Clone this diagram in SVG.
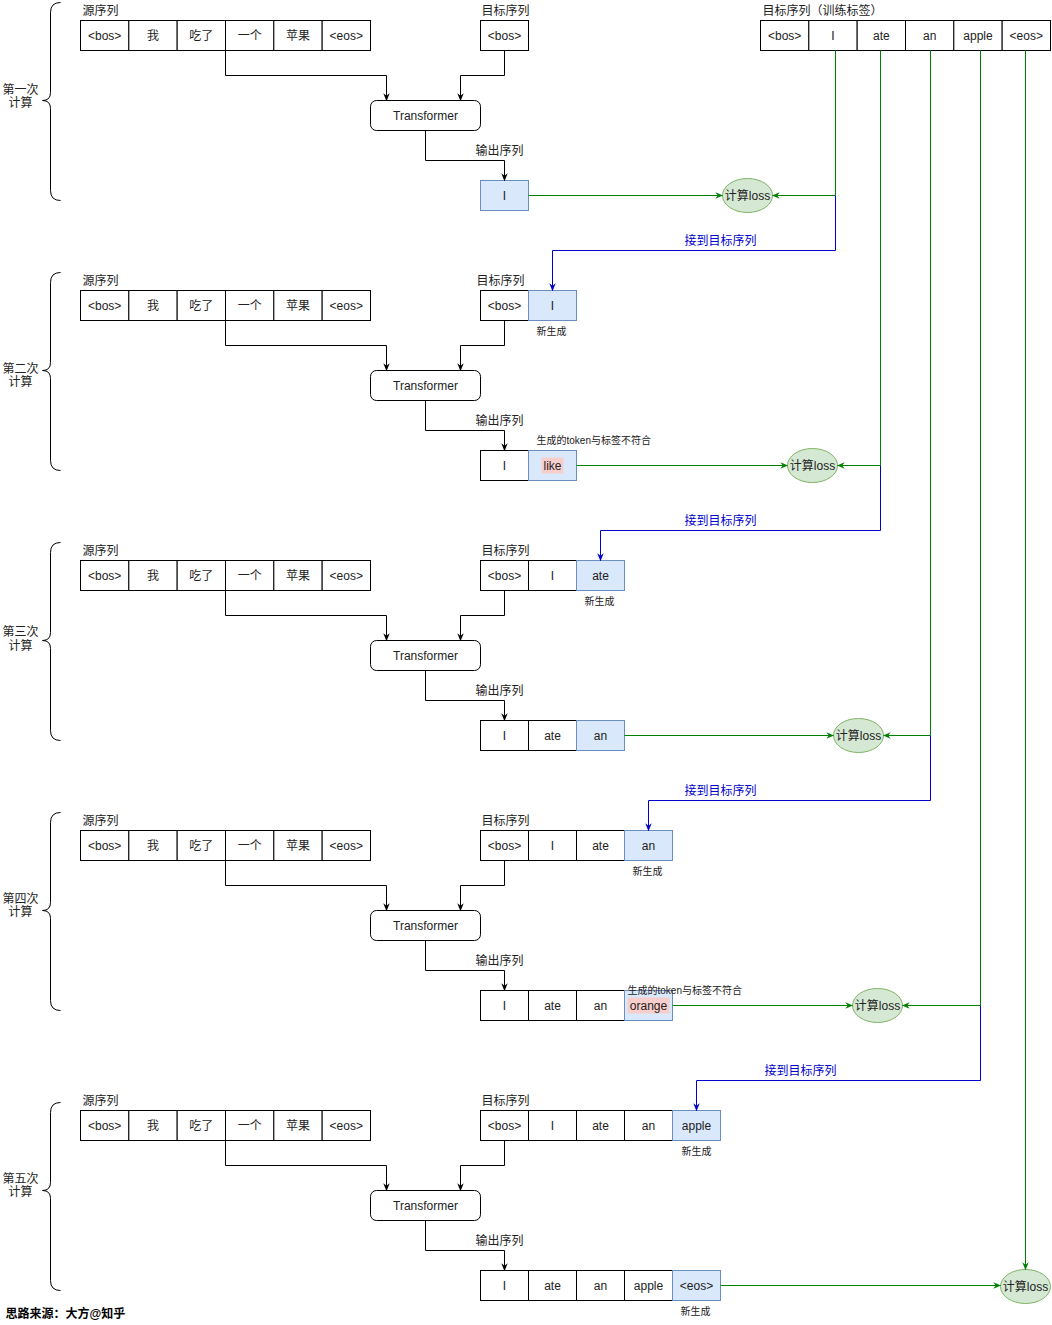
<svg xmlns="http://www.w3.org/2000/svg" width="1052" height="1325" viewBox="0 0 1052 1325">
<defs>
<style>
.c{fill:#fff;stroke:#000;stroke-width:1}
.b{fill:#dae8fc;stroke:#6c8ebf;stroke-width:1}
.e{fill:#d5e8d4;stroke:#82b366;stroke-width:1}
.t{font-family:"Liberation Sans","Noto Sans CJK SC",sans-serif;font-size:12px;fill:#222;text-anchor:middle;dominant-baseline:central}
.l{text-anchor:start}
.s{font-size:10px}
.blue{fill:#0000cc}
.k{fill:none;stroke:#000;stroke-width:1}
.g{fill:none;stroke:#008000;stroke-width:1}
.u{fill:none;stroke:#0000cc;stroke-width:1}
.br{fill:none;stroke:#000;stroke-width:1}
.hl{fill:#f8cecc}
</style>
<marker id="ak" viewBox="0 0 10 10" refX="9" refY="5" markerWidth="8" markerHeight="8" orient="auto"><path d="M0,1 L10,5 L0,9 L3,5z" fill="#000"/></marker>
<marker id="ag" viewBox="0 0 10 10" refX="9" refY="5" markerWidth="8" markerHeight="8" orient="auto"><path d="M0,1 L10,5 L0,9 L3,5z" fill="#008000"/></marker>
<marker id="au" viewBox="0 0 10 10" refX="9" refY="5" markerWidth="8" markerHeight="8" orient="auto"><path d="M0,1 L10,5 L0,9 L3,5z" fill="#0000cc"/></marker>
</defs>
<rect width="1052" height="1325" fill="#fff"/>
<g transform="translate(0.5,0.5)">

<!-- Training label row -->
<g id="label-row">
<text class="t l" x="762" y="10">目标序列（训练标签）</text>
<rect class="c" x="760" y="20" width="48.33" height="30"/><text class="t" x="784.2" y="35">&lt;bos&gt;</text>
<rect class="c" x="808.33" y="20" width="48.33" height="30"/><text class="t" x="832.5" y="35">I</text>
<rect class="c" x="856.67" y="20" width="48.33" height="30"/><text class="t" x="880.8" y="35">ate</text>
<rect class="c" x="905" y="20" width="48.33" height="30"/><text class="t" x="929.2" y="35">an</text>
<rect class="c" x="953.33" y="20" width="48.33" height="30"/><text class="t" x="977.5" y="35">apple</text>
<rect class="c" x="1001.67" y="20" width="48.33" height="30"/><text class="t" x="1025.8" y="35">&lt;eos&gt;</text>
</g>

<!-- Section 1 -->
<g id="s1">
<g id="s1-brace"><path class="br" d="M60,2 Q50,2 50,12 L50,92 Q50,100 42,100 Q50,100 50,108 L50,190 Q50,200 60,200"/>
<text class="t" x="20" y="89">第一次</text><text class="t" x="20" y="102">计算</text></g>
<g id="s1-src"><text class="t l" x="82" y="10">源序列</text>
<rect class="c" x="80" y="20" width="48.33" height="30"/><text class="t" x="104.2" y="35">&lt;bos&gt;</text>
<rect class="c" x="128.33" y="20" width="48.33" height="30"/><text class="t" x="152.5" y="35">我</text>
<rect class="c" x="176.67" y="20" width="48.33" height="30"/><text class="t" x="200.8" y="35">吃了</text>
<rect class="c" x="225" y="20" width="48.33" height="30"/><text class="t" x="249.2" y="35">一个</text>
<rect class="c" x="273.33" y="20" width="48.33" height="30"/><text class="t" x="297.5" y="35">苹果</text>
<rect class="c" x="321.67" y="20" width="48.33" height="30"/><text class="t" x="345.8" y="35">&lt;eos&gt;</text></g>
<g id="s1-tgt"><text class="t l" x="481" y="10">目标序列</text>
<rect class="c" x="480" y="20" width="48" height="30"/><text class="t" x="504" y="35">&lt;bos&gt;</text></g>
<g id="s1-tf"><rect class="c" x="370" y="100" width="110" height="30" rx="6"/><text class="t" x="425" y="115">Transformer</text></g>
<g id="s1-out"><text class="t l" x="475" y="150">输出序列</text>
<rect class="b" x="480" y="180" width="48" height="30"/><text class="t" x="504" y="195">I</text></g>
<g id="s1-loss"><ellipse class="e" cx="747" cy="195" rx="25" ry="17"/><text class="t" x="747" y="195">计算loss</text></g>
</g>

<!-- Section 2 -->
<g id="s2">
<g id="s2-brace"><path class="br" d="M60,272 Q50,272 50,282 L50,362 Q50,370 42,370 Q50,370 50,378 L50,460 Q50,470 60,470"/>
<text class="t" x="20" y="368">第二次</text><text class="t" x="20" y="381">计算</text></g>
<g id="s2-src"><text class="t l" x="82" y="280">源序列</text>
<rect class="c" x="80" y="290" width="48.33" height="30"/><text class="t" x="104.2" y="305">&lt;bos&gt;</text>
<rect class="c" x="128.33" y="290" width="48.33" height="30"/><text class="t" x="152.5" y="305">我</text>
<rect class="c" x="176.67" y="290" width="48.33" height="30"/><text class="t" x="200.8" y="305">吃了</text>
<rect class="c" x="225" y="290" width="48.33" height="30"/><text class="t" x="249.2" y="305">一个</text>
<rect class="c" x="273.33" y="290" width="48.33" height="30"/><text class="t" x="297.5" y="305">苹果</text>
<rect class="c" x="321.67" y="290" width="48.33" height="30"/><text class="t" x="345.8" y="305">&lt;eos&gt;</text></g>
<g id="s2-tgt"><text class="t l" x="476" y="280">目标序列</text>
<rect class="c" x="480" y="290" width="48" height="30"/><text class="t" x="504" y="305">&lt;bos&gt;</text>
<rect class="b" x="528" y="290" width="48" height="30"/><text class="t" x="552" y="305">I</text>
<text class="t s" x="551" y="331">新生成</text></g>
<g id="s2-tf"><rect class="c" x="370" y="370" width="110" height="30" rx="6"/><text class="t" x="425" y="385">Transformer</text></g>
<g id="s2-out"><text class="t l" x="475" y="420">输出序列</text>
<text class="t l s" x="536" y="440">生成的token与标签不符合</text>
<rect class="c" x="480" y="450" width="48" height="30"/><text class="t" x="504" y="465">I</text>
<rect class="b" x="528" y="450" width="48" height="30"/><rect class="hl" x="541" y="457" width="22" height="16"/><text class="t" x="552" y="465">like</text></g>
<g id="s2-loss"><ellipse class="e" cx="812" cy="465" rx="25" ry="17"/><text class="t" x="812" y="465">计算loss</text></g>
</g>

<!-- Section 3 -->
<g id="s3">
<g id="s3-brace"><path class="br" d="M60,542 Q50,542 50,552 L50,632 Q50,640 42,640 Q50,640 50,648 L50,730 Q50,740 60,740"/>
<text class="t" x="20" y="631">第三次</text><text class="t" x="20" y="645">计算</text></g>
<g id="s3-src"><text class="t l" x="82" y="550">源序列</text>
<rect class="c" x="80" y="560" width="48.33" height="30"/><text class="t" x="104.2" y="575">&lt;bos&gt;</text>
<rect class="c" x="128.33" y="560" width="48.33" height="30"/><text class="t" x="152.5" y="575">我</text>
<rect class="c" x="176.67" y="560" width="48.33" height="30"/><text class="t" x="200.8" y="575">吃了</text>
<rect class="c" x="225" y="560" width="48.33" height="30"/><text class="t" x="249.2" y="575">一个</text>
<rect class="c" x="273.33" y="560" width="48.33" height="30"/><text class="t" x="297.5" y="575">苹果</text>
<rect class="c" x="321.67" y="560" width="48.33" height="30"/><text class="t" x="345.8" y="575">&lt;eos&gt;</text></g>
<g id="s3-tgt"><text class="t l" x="481" y="550">目标序列</text>
<rect class="c" x="480" y="560" width="48" height="30"/><text class="t" x="504" y="575">&lt;bos&gt;</text>
<rect class="c" x="528" y="560" width="48" height="30"/><text class="t" x="552" y="575">I</text>
<rect class="b" x="576" y="560" width="48" height="30"/><text class="t" x="600" y="575">ate</text>
<text class="t s" x="599" y="601">新生成</text></g>
<g id="s3-tf"><rect class="c" x="370" y="640" width="110" height="30" rx="6"/><text class="t" x="425" y="655">Transformer</text></g>
<g id="s3-out"><text class="t l" x="475" y="690">输出序列</text>
<rect class="c" x="480" y="720" width="48" height="30"/><text class="t" x="504" y="735">I</text>
<rect class="c" x="528" y="720" width="48" height="30"/><text class="t" x="552" y="735">ate</text>
<rect class="b" x="576" y="720" width="48" height="30"/><text class="t" x="600" y="735">an</text></g>
<g id="s3-loss"><ellipse class="e" cx="858" cy="735" rx="25" ry="17"/><text class="t" x="858" y="735">计算loss</text></g>
</g>

<!-- Section 4 -->
<g id="s4">
<g id="s4-brace"><path class="br" d="M60,812 Q50,812 50,822 L50,902 Q50,910 42,910 Q50,910 50,918 L50,1000 Q50,1010 60,1010"/>
<text class="t" x="20" y="898">第四次</text><text class="t" x="20" y="911">计算</text></g>
<g id="s4-src"><text class="t l" x="82" y="820">源序列</text>
<rect class="c" x="80" y="830" width="48.33" height="30"/><text class="t" x="104.2" y="845">&lt;bos&gt;</text>
<rect class="c" x="128.33" y="830" width="48.33" height="30"/><text class="t" x="152.5" y="845">我</text>
<rect class="c" x="176.67" y="830" width="48.33" height="30"/><text class="t" x="200.8" y="845">吃了</text>
<rect class="c" x="225" y="830" width="48.33" height="30"/><text class="t" x="249.2" y="845">一个</text>
<rect class="c" x="273.33" y="830" width="48.33" height="30"/><text class="t" x="297.5" y="845">苹果</text>
<rect class="c" x="321.67" y="830" width="48.33" height="30"/><text class="t" x="345.8" y="845">&lt;eos&gt;</text></g>
<g id="s4-tgt"><text class="t l" x="481" y="820">目标序列</text>
<rect class="c" x="480" y="830" width="48" height="30"/><text class="t" x="504" y="845">&lt;bos&gt;</text>
<rect class="c" x="528" y="830" width="48" height="30"/><text class="t" x="552" y="845">I</text>
<rect class="c" x="576" y="830" width="48" height="30"/><text class="t" x="600" y="845">ate</text>
<rect class="b" x="624" y="830" width="48" height="30"/><text class="t" x="648" y="845">an</text>
<text class="t s" x="647" y="871">新生成</text></g>
<g id="s4-tf"><rect class="c" x="370" y="910" width="110" height="30" rx="6"/><text class="t" x="425" y="925">Transformer</text></g>
<g id="s4-out"><text class="t l" x="475" y="960">输出序列</text>
<rect class="c" x="480" y="990" width="48" height="30"/><text class="t" x="504" y="1005">I</text>
<rect class="c" x="528" y="990" width="48" height="30"/><text class="t" x="552" y="1005">ate</text>
<rect class="c" x="576" y="990" width="48" height="30"/><text class="t" x="600" y="1005">an</text>
<rect class="b" x="624" y="990" width="48" height="30"/><rect class="hl" x="627" y="997" width="42" height="16"/><text class="t" x="648" y="1005">orange</text>
<text class="t l s" x="627" y="990">生成的token与标签不符合</text></g>
<g id="s4-loss"><ellipse class="e" cx="877" cy="1005" rx="25" ry="17"/><text class="t" x="877" y="1005">计算loss</text></g>
</g>

<!-- Section 5 -->
<g id="s5">
<g id="s5-brace"><path class="br" d="M60,1102 Q50,1102 50,1112 L50,1182 Q50,1190 42,1190 Q50,1190 50,1198 L50,1280 Q50,1290 60,1290"/>
<text class="t" x="20" y="1178">第五次</text><text class="t" x="20" y="1191">计算</text></g>
<g id="s5-src"><text class="t l" x="82" y="1100">源序列</text>
<rect class="c" x="80" y="1110" width="48.33" height="30"/><text class="t" x="104.2" y="1125">&lt;bos&gt;</text>
<rect class="c" x="128.33" y="1110" width="48.33" height="30"/><text class="t" x="152.5" y="1125">我</text>
<rect class="c" x="176.67" y="1110" width="48.33" height="30"/><text class="t" x="200.8" y="1125">吃了</text>
<rect class="c" x="225" y="1110" width="48.33" height="30"/><text class="t" x="249.2" y="1125">一个</text>
<rect class="c" x="273.33" y="1110" width="48.33" height="30"/><text class="t" x="297.5" y="1125">苹果</text>
<rect class="c" x="321.67" y="1110" width="48.33" height="30"/><text class="t" x="345.8" y="1125">&lt;eos&gt;</text></g>
<g id="s5-tgt"><text class="t l" x="481" y="1100">目标序列</text>
<rect class="c" x="480" y="1110" width="48" height="30"/><text class="t" x="504" y="1125">&lt;bos&gt;</text>
<rect class="c" x="528" y="1110" width="48" height="30"/><text class="t" x="552" y="1125">I</text>
<rect class="c" x="576" y="1110" width="48" height="30"/><text class="t" x="600" y="1125">ate</text>
<rect class="c" x="624" y="1110" width="48" height="30"/><text class="t" x="648" y="1125">an</text>
<rect class="b" x="672" y="1110" width="48" height="30"/><text class="t" x="696" y="1125">apple</text>
<text class="t s" x="696" y="1151">新生成</text></g>
<g id="s5-tf"><rect class="c" x="370" y="1190" width="110" height="30" rx="6"/><text class="t" x="425" y="1205">Transformer</text></g>
<g id="s5-out"><text class="t l" x="475" y="1240">输出序列</text>
<rect class="c" x="480" y="1270" width="48" height="30"/><text class="t" x="504" y="1285">I</text>
<rect class="c" x="528" y="1270" width="48" height="30"/><text class="t" x="552" y="1285">ate</text>
<rect class="c" x="576" y="1270" width="48" height="30"/><text class="t" x="600" y="1285">an</text>
<rect class="c" x="624" y="1270" width="48" height="30"/><text class="t" x="648" y="1285">apple</text>
<rect class="b" x="672" y="1270" width="48" height="30"/><text class="t" x="696" y="1285">&lt;eos&gt;</text>
<text class="t s" x="695" y="1311">新生成</text></g>
<g id="s5-loss"><ellipse class="e" cx="1025" cy="1286" rx="25" ry="17"/><text class="t" x="1025" y="1286">计算loss</text></g>
</g>

<!-- Connectors -->
<g id="connectors">
<path class="k" marker-end="url(#ak)" d="M225,50 V75 H386 V100"/>
<path class="k" marker-end="url(#ak)" d="M504,50 V75 H460 V100"/>
<path class="k" marker-end="url(#ak)" d="M425,130 V160 H504 V180"/>
<path class="k" marker-end="url(#ak)" d="M225,320 V345 H386 V370"/>
<path class="k" marker-end="url(#ak)" d="M504,320 V345 H460 V370"/>
<path class="k" marker-end="url(#ak)" d="M425,400 V430 H504 V450"/>
<path class="k" marker-end="url(#ak)" d="M225,590 V615 H386 V640"/>
<path class="k" marker-end="url(#ak)" d="M504,590 V615 H460 V640"/>
<path class="k" marker-end="url(#ak)" d="M425,670 V700 H504 V720"/>
<path class="k" marker-end="url(#ak)" d="M225,860 V885 H386 V910"/>
<path class="k" marker-end="url(#ak)" d="M504,860 V885 H460 V910"/>
<path class="k" marker-end="url(#ak)" d="M425,940 V970 H504 V990"/>
<path class="k" marker-end="url(#ak)" d="M225,1140 V1165 H386 V1190"/>
<path class="k" marker-end="url(#ak)" d="M504,1140 V1165 H460 V1190"/>
<path class="k" marker-end="url(#ak)" d="M425,1220 V1250 H504 V1270"/>

<path class="g" marker-end="url(#ag)" d="M528,195 H722"/>
<path class="g" marker-end="url(#ag)" d="M576,465 H787"/>
<path class="g" marker-end="url(#ag)" d="M624,735 H833"/>
<path class="g" marker-end="url(#ag)" d="M672,1005 H852"/>
<path class="g" marker-end="url(#ag)" d="M720,1285 H1000"/>

<path class="g" marker-end="url(#ag)" d="M835,50 V195 H772"/>
<path class="g" marker-end="url(#ag)" d="M880,50 V465 H837"/>
<path class="g" marker-end="url(#ag)" d="M930,50 V735 H883"/>
<path class="g" marker-end="url(#ag)" d="M980,50 V1005 H902"/>
<path class="g" marker-end="url(#ag)" d="M1025,50 V1269"/>

<path class="u" marker-end="url(#au)" d="M835,195 V250 H552 V290"/>
<path class="u" marker-end="url(#au)" d="M880,465 V530 H600 V560"/>
<path class="u" marker-end="url(#au)" d="M930,735 V800 H648 V830"/>
<path class="u" marker-end="url(#au)" d="M980,1005 V1080 H696 V1110"/>
<text class="t blue" x="720" y="240">接到目标序列</text>
<text class="t blue" x="720" y="520">接到目标序列</text>
<text class="t blue" x="720" y="790">接到目标序列</text>
<text class="t blue" x="800" y="1070">接到目标序列</text>
</g>

<text class="t l" x="5" y="1313" style="font-weight:bold;font-size:12px;fill:#000">思路来源：大方@知乎</text>
</g>
</svg>
